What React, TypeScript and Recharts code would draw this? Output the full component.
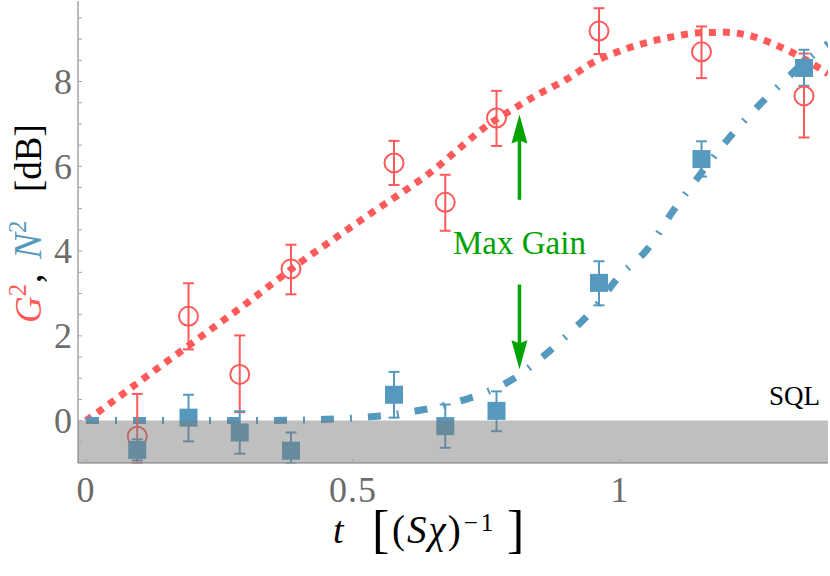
import React from 'react';
import {
  ComposedChart,
  Line,
  Scatter,
  XAxis,
  YAxis,
  ErrorBar,
  ReferenceArea,
  ReferenceLine,
  ReferenceDot,
  Label,
} from 'recharts';

const RED = '#ff5a5a';
const BLUE = '#5699bf';
const GREEN = '#00a300';
const AXIS = '#a3a3a3';
const TICKTEXT = '#6b6b6b';
const FONT = '"Liberation Serif", "DejaVu Serif", serif';

// theory curves
const curveT = [0, 0.05, 0.1, 0.15, 0.2, 0.25, 0.3, 0.35, 0.4, 0.45, 0.5, 0.55, 0.6, 0.65, 0.7, 0.75, 0.8, 0.85, 0.9, 0.95, 1.0, 1.05, 1.1, 1.15, 1.2, 1.25, 1.3, 1.35, 1.39];
const gainCurve = [0, 0.45, 0.92, 1.38, 1.84, 2.3, 2.76, 3.24, 3.72, 4.16, 4.6, 5.03, 5.45, 5.9, 6.43, 6.95, 7.35, 7.72, 8.05, 8.45, 8.72, 8.92, 9.06, 9.15, 9.16, 9.06, 8.82, 8.5, 8.18];
const noiseCurve = [0, 0, 0, 0, 0, 0, 0, 0.005, 0.01, 0.03, 0.06, 0.11, 0.19, 0.3, 0.46, 0.67, 0.98, 1.45, 2.0, 2.62, 3.42, 4.02, 4.95, 5.8, 6.6, 7.3, 7.92, 8.5, 8.9];

// measured points
const measT = [0.096, 0.192, 0.288, 0.384, 0.577, 0.673, 0.769, 0.961, 1.153, 1.345];
const gainDb = [-0.37, 2.46, 1.09, 3.58, 6.08, 5.15, 7.14, 9.19, 8.7, 7.66];
const gainErrLow = [0.63, 0.78, 0.89, 0.6, 0.52, 0.67, 0.66, 0.54, 0.62, 0.98];
const gainErrHigh = [1.0, 0.78, 0.92, 0.57, 0.52, 0.65, 0.64, 0.54, 0.6, 1.0];
const noiseDb = [-0.69, 0.07, -0.28, -0.71, 0.61, -0.13, 0.23, 3.25, 6.17, 8.32];
const noiseErrLow = [0.25, 0.56, 0.5, 0.29, 0.54, 0.51, 0.48, 0.53, 0.41, 0.42];
const noiseErrHigh = [0.25, 0.54, 0.5, 0.43, 0.54, 0.51, 0.46, 0.51, 0.42, 0.43];

const xTicks = [0, 0.5, 1];
const yTicks = [-0.5, 0, 0.5, 1, 1.5, 2, 2.5, 3, 3.5, 4, 4.5, 5, 5.5, 6, 6.5, 7, 7.5, 8, 8.5, 9, 9.5];
const yLabelled = [0, 2, 4, 6, 8];

const gainLine = curveT.map((t, i) => ({ t, v: gainCurve[i] }));
const noiseLine = curveT.map((t, i) => ({ t, v: noiseCurve[i] }));
const gainPts = measT.map((t, i) => ({ t, v: gainDb[i], err: [gainErrLow[i], gainErrHigh[i]] }));
const noisePts = measT.map((t, i) => ({ t, v: noiseDb[i], err: [noiseErrLow[i], noiseErrHigh[i]] }));

const TICK_MARGIN = 6;

const YTick = (props: any) => {
  const { x, y, payload } = props;
  const axisX = x + TICK_MARGIN;
  const v = payload.value;
  return (
    <g>
      <line x1={axisX} x2={axisX + 4} y1={y} y2={y} stroke={AXIS} strokeWidth={1} />
      {yLabelled.includes(v) && (
        <text x={x} y={y} dy="0.34em" textAnchor="end" fill={TICKTEXT} fontSize={36} fontFamily={FONT}>
          {String(v)}
        </text>
      )}
    </g>
  );
};

const XTick = (props: any) => {
  const { x, y, payload } = props;
  const axisY = y - TICK_MARGIN;
  return (
    <g>
      <line x1={x} x2={x} y1={axisY} y2={axisY - 4} stroke={AXIS} strokeWidth={1} />
      <text x={x} y={axisY + 39} textAnchor="middle" fill={TICKTEXT} fontSize={36} fontFamily={FONT} letterSpacing={1}>
        {String(payload.value)}
      </text>
    </g>
  );
};

const YTitle = () => (
  <text transform="translate(41, 0) rotate(-90)" fontFamily={FONT} fontSize={37} fill="#000">
    <tspan x={-323} y={0} fill={RED} fontStyle="italic">G</tspan>
    <tspan fill={RED} fontSize={25} dy={-15}>2</tspan>
    <tspan x={-283} dy={15}>,</tspan>
    <tspan x={-259} fill={BLUE} fontStyle="italic" fontSize={39}>N</tspan>
    <tspan fill={BLUE} fontSize={25} dy={-15}>2</tspan>
    <tspan x={-192} dy={15}>[dB]</tspan>
  </text>
);

const XTitle = () => (
  <g fontFamily={FONT} fill="#000">
    <text x={333} y={543} fontSize={38} fontStyle="italic">t</text>
    <text x={372} y={547} fontSize={52}>[</text>
    <text x={392} y={543} fontSize={39} letterSpacing={2}>
      <tspan>(</tspan>
      <tspan fontStyle="italic">Sχ</tspan>
      <tspan>)</tspan>
      <tspan fontSize={25} dy={-12} dx={1} letterSpacing={3}>−1</tspan>
    </text>
    <text x={507} y={547} fontSize={52}>]</text>
  </g>
);

const arrowShape = (props: any) => {
  const { x1, y1, x2, y2 } = props;
  const dir = Math.sign(y2 - y1);
  const headLen = 29;
  const half = 8;
  const baseY = y2 - dir * headLen;
  const notchY = baseY + dir * 3;
  return (
    <g>
      <line x1={x1} y1={y1} x2={x2} y2={notchY} stroke={GREEN} strokeWidth={3.5} />
      <path d={`M${x2},${y2} L${x2 - half},${baseY} L${x2},${notchY} L${x2 + half},${baseY} Z`} fill={GREEN} />
    </g>
  );
};

const circleShape = (p: any) => (
  <circle cx={p.cx} cy={p.cy} r={9.5} fill="none" stroke={RED} strokeWidth={2} />
);
const squareShape = (p: any) => (
  <rect x={p.cx - 9} y={p.cy - 9} width={18} height={18} fill={BLUE} />
);

export default function App() {
  return (
    <div style={{ position: 'absolute', left: 0, top: 0, background: '#fff' }}>
      <ComposedChart width={830} height={576} margin={{ top: 1, right: 2, bottom: 0, left: 0 }}>
        <XAxis
          dataKey="t"
          type="number"
          domain={[-0.015, 1.39]}
          allowDataOverflow
          ticks={xTicks}
          interval={0}
          tickSize={0}
          tickMargin={TICK_MARGIN}
          tickLine={false}
          tick={<XTick />}
          height={113}
          axisLine={{ stroke: AXIS, strokeWidth: 1.5 }}
        >
          <Label content={<XTitle />} />
        </XAxis>
        <XAxis
          xAxisId="top"
          orientation="top"
          dataKey="t"
          type="number"
          domain={[-0.015, 1.39]}
          allowDataOverflow
          height={0}
          tick={false}
          tickLine={false}
          axisLine={{ stroke: AXIS, strokeWidth: 1.5 }}
        />
        <YAxis
          type="number"
          domain={[-1, 9.9]}
          allowDataOverflow
          ticks={yTicks}
          interval={0}
          tickSize={0}
          tickMargin={TICK_MARGIN}
          tickLine={false}
          tick={<YTick />}
          width={78}
          axisLine={{ stroke: AXIS, strokeWidth: 1.5 }}
        >
          <Label content={<YTitle />} />
        </YAxis>
        <YAxis
          yAxisId="right"
          orientation="right"
          type="number"
          domain={[-1, 9.9]}
          allowDataOverflow
          width={0}
          tick={false}
          tickLine={false}
          axisLine={{ stroke: AXIS, strokeWidth: 1.5 }}
        />
        <Line
          data={gainLine}
          dataKey="v"
          type="monotone"
          stroke={RED}
          strokeWidth={7}
          strokeDasharray="7 7"
          dot={false}
          activeDot={false}
          isAnimationActive={false}
        />
        <Line
          data={noiseLine}
          dataKey="v"
          type="monotone"
          stroke={BLUE}
          strokeWidth={7}
          strokeDasharray="13 16 2 16"
          dot={false}
          activeDot={false}
          isAnimationActive={false}
        />
        <Scatter data={gainPts} dataKey="v" shape={circleShape} isAnimationActive={false}>
          <ErrorBar dataKey="err" direction="y" width={5.5} stroke={RED} strokeWidth={2} />
        </Scatter>
        <Scatter data={noisePts} dataKey="v" shape={squareShape} isAnimationActive={false}>
          <ErrorBar dataKey="err" direction="y" width={5.5} stroke={BLUE} strokeWidth={2} />
        </Scatter>
        <ReferenceArea y1={-1} y2={0} fill="#7a7a7a" fillOpacity={0.48} stroke="none" zIndex={700} ifOverflow="hidden" />
        <ReferenceLine
          segment={[{ x: 0.812, y: 5.21 }, { x: 0.812, y: 7.22 }]}
          shape={arrowShape}
          stroke={GREEN}
        />
        <ReferenceLine
          segment={[{ x: 0.812, y: 3.21 }, { x: 0.812, y: 1.21 }]}
          shape={arrowShape}
          stroke={GREEN}
        />
        <ReferenceDot
          x={0.812}
          y={3.92}
          r={0}
          shape={(p: any) => (
            <text x={p.cx} y={p.cy} textAnchor="middle" fill={GREEN} fontSize={33} fontFamily={FONT}>
              Max Gain
            </text>
          )}
        />
        <ReferenceDot
          x={1.375}
          y={0.36}
          r={0}
          shape={(p: any) => (
            <text x={p.cx} y={p.cy} textAnchor="end" fill="#000" fontSize={27} fontFamily={FONT}>
              SQL
            </text>
          )}
        />
      </ComposedChart>
    </div>
  );
}
